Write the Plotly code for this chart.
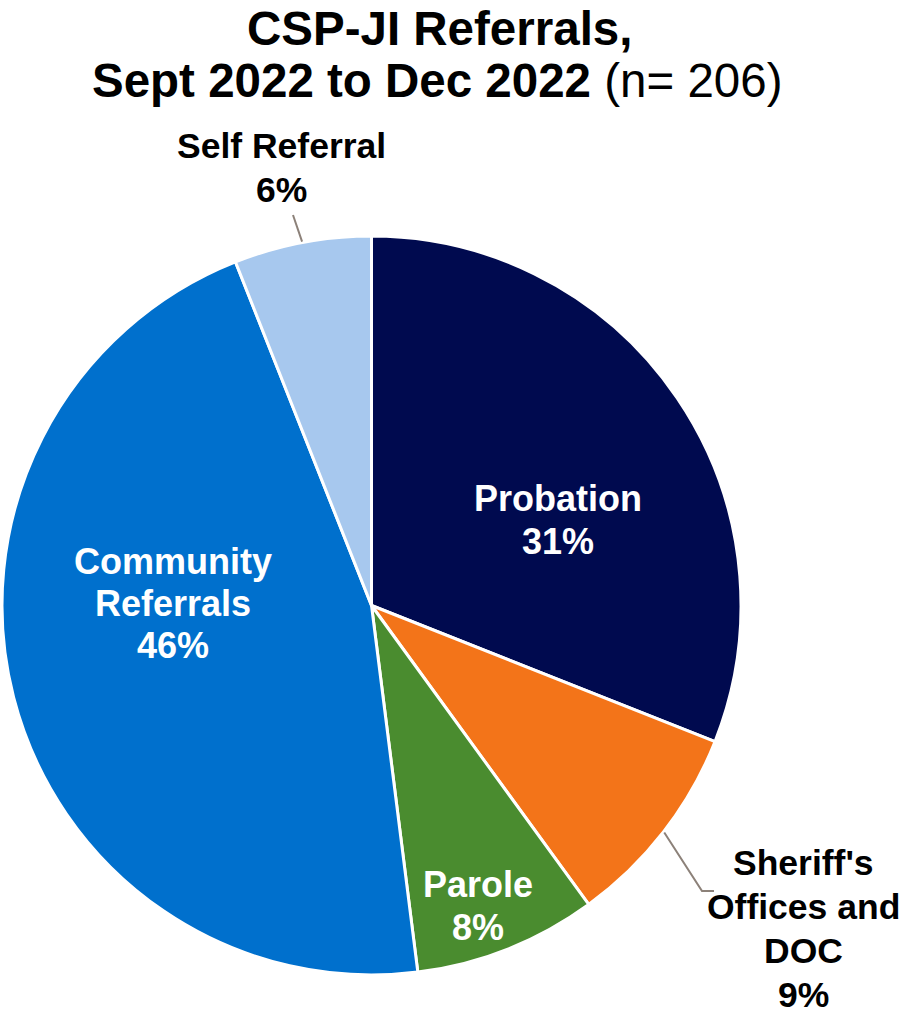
import math
import plotly.graph_objects as go

# Referral sources and their share of all CSP-JI referrals (percent)
categories = ["Probation", "Sheriff's Offices and DOC", "Parole",
              "Community Referrals", "Self Referral"]
shares = [31, 9, 8, 46, 6]
colors = ["#000A4F", "#F37419", "#4A8C2F", "#0070CD", "#A7C8EE"]

title_line1 = "CSP-JI Referrals,"
title_line2 = "Sept 2022 to Dec 2022"
sample_size = 206

W, H = 905, 1014
CX, CY, R = 371.5, 605.5, 369.5      # pie centre and radius in pixels
FONT = "Liberation Sans, Arial, sans-serif"


def fx(x):
    return x / W


def fy(y):
    return 1 - y / H


fig = go.Figure(go.Pie(
    labels=categories,
    values=shares,
    sort=False,
    direction="clockwise",
    rotation=0,
    marker=dict(colors=colors, line=dict(color="white", width=3)),
    textinfo="none",
    hoverinfo="label+percent",
    showlegend=False,
    domain=dict(x=[fx(CX - R), fx(CX + R)], y=[fy(CY + R), fy(CY - R)]),
))

# label placement: text lines (name), centre x, first-line y, line gap, size, colour
label_layout = {
    "Probation": (["Probation"], 558, 498, 43, 36, "white"),
    "Sheriff's Offices and DOC": (["Sheriff's", "Offices and", "DOC"], 803, 863, 44, 35.5, "black"),
    "Parole": (["Parole"], 478, 884, 43.5, 36, "white"),
    "Community Referrals": (["Community", "Referrals"], 173, 561, 42, 36, "white"),
    "Self Referral": (["Self Referral"], 281, 146, 44, 35.5, "black"),
}

annotations = []
for cat, share in zip(categories, shares):
    lines, x, y0, gap, size, col = label_layout[cat]
    for i, txt in enumerate(lines + [f"{share}%"]):
        annotations.append(dict(
            text=f"<b>{txt}</b>", x=fx(x), y=fy(y0 + i * gap),
            xref="paper", yref="paper", xanchor="center", yanchor="middle",
            showarrow=False, font=dict(family=FONT, size=size, color=col),
        ))

# title
annotations.append(dict(
    text=f"<b>{title_line1}</b>", x=fx(439), y=fy(28), xref="paper", yref="paper",
    xanchor="center", yanchor="middle", showarrow=False,
    font=dict(family=FONT, size=47.5, color="black")))
annotations.append(dict(
    text=f"<b>{title_line2}</b> (n= {sample_size})", x=fx(437), y=fy(81),
    xref="paper", yref="paper", xanchor="center", yanchor="middle", showarrow=False,
    font=dict(family=FONT, size=47.5, color="black")))

# leader lines for the labels placed outside the pie
cum = 0
mid_angle = {}
for cat, share in zip(categories, shares):
    mid_angle[cat] = (cum + share / 2) / sum(shares) * 2 * math.pi
    cum += share

leader_ends = {
    "Self Referral": [(293, 215)],
    "Sheriff's Offices and DOC": [(702, 891), (714, 891)],
}
shapes = []
for cat, pts in leader_ends.items():
    a = mid_angle[cat]
    sx = CX + (R + 1) * math.sin(a)
    sy = CY - (R + 1) * math.cos(a)
    path = f"M {fx(sx)},{fy(sy)}" + "".join(f" L {fx(px)},{fy(py)}" for px, py in pts)
    shapes.append(dict(type="path", path=path, xref="paper", yref="paper",
                       line=dict(color="#8C8179", width=2)))

fig.update_layout(
    width=W, height=H,
    margin=dict(l=0, r=0, t=0, b=0),
    paper_bgcolor="white", plot_bgcolor="white",
    annotations=annotations, shapes=shapes,
)

fig.write_html("out.html")
